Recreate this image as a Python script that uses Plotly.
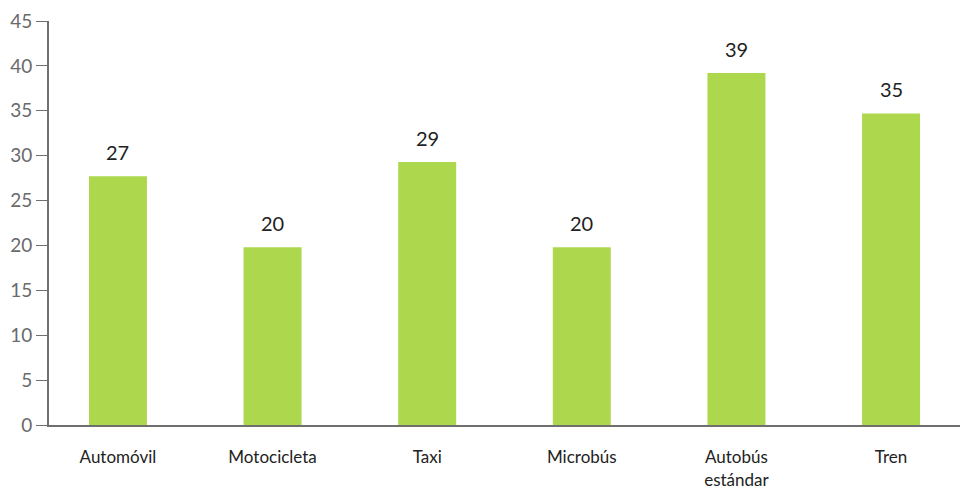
import plotly.graph_objects as go

categories = ["Automóvil", "Motocicleta", "Taxi", "Microbús", "Autobús<br>estándar", "Tren"]
values = [27.7, 19.8, 29.3, 19.8, 39.2, 34.7]
labels = ["27", "20", "29", "20", "39", "35"]
y_ticks = [0, 5, 10, 15, 20, 25, 30, 35, 40, 45]

x_pos = list(range(len(categories)))

fig = go.Figure()
fig.add_trace(go.Bar(
    x=x_pos, y=values, width=0.375,
    marker=dict(color="#add84e", line=dict(width=0)),
    hoverinfo="skip",
))

for xp, v, lab in zip(x_pos, values, labels):
    fig.add_annotation(x=xp, y=v, text=lab, showarrow=False, yshift=24,
                       font=dict(family="Lato", size=20, color="#222222"))

fig.update_layout(
    width=960, height=488,
    margin=dict(l=49, r=0, t=21, b=63),
    plot_bgcolor="white", paper_bgcolor="white",
    showlegend=False,
    xaxis=dict(
        range=[-0.446, 5.446], automargin=False,
        tickmode="array", tickvals=x_pos, ticktext=categories,
        showgrid=False, zeroline=False,
        showline=True, linecolor="#6f6f6f", linewidth=2,
        ticks="", ticklabelstandoff=16,
        tickfont=dict(family="Lato", size=17, color="#222222"),
    ),
    yaxis=dict(
        range=[0, 45], automargin=False,
        tickmode="array", tickvals=y_ticks,
        showgrid=False, zeroline=False,
        showline=True, linecolor="#6f6f6f", linewidth=2,
        ticks="outside", ticklen=11, tickcolor="#6f6f6f", tickwidth=1,
        tickfont=dict(family="Lato", size=19, color="#6a6a6a"),
    ),
)

fig.write_html("out.html", config={"displayModeBar": False},
               post_script="document.body.style.margin='0';document.body.style.overflow='hidden';")
